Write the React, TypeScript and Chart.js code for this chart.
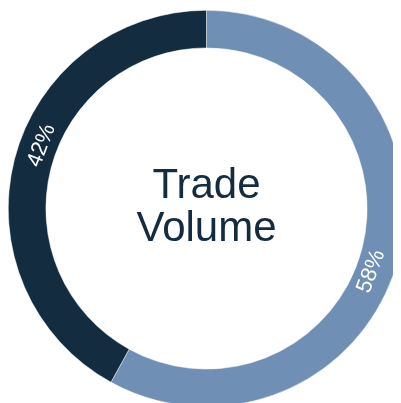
import React, { useEffect, useRef } from "react";
import { Chart, registerables } from "chart.js";

Chart.register(...registerables);

const categories = ["Share A", "Share B"];
const shareValues = [58, 42];
const shareLabels = ["58%", "42%"];
const centerLines = ["Trade", "Volume"];
const sliceColors = ["#6f8fb4", "#132c40"];

const FONT = '"Liberation Sans", Arial, Helvetica, sans-serif';

const labelPlugin = {
  id: "ringLabels",
  afterDatasetsDraw(chart: any) {
    const ctx = chart.ctx as CanvasRenderingContext2D;
    const meta = chart.getDatasetMeta(0);
    meta.data.forEach((arc: any, i: number) => {
      const { x, y, startAngle, endAngle, innerRadius, outerRadius } = arc.getProps(
        ["x", "y", "startAngle", "endAngle", "innerRadius", "outerRadius"],
        true
      );
      const mid = (startAngle + endAngle) / 2 + (6.5 * Math.PI) / 180;
      const r = (innerRadius + outerRadius) / 2 - 3;
      const px = x + Math.cos(mid) * r;
      const py = y + Math.sin(mid) * r;
      let rot = mid - Math.PI / 2;
      const deg = ((mid * 180) / Math.PI + 360) % 360;
      if (deg > 90 && deg < 270) rot = mid + Math.PI / 2;
      ctx.save();
      ctx.translate(px, py);
      ctx.rotate(rot);
      ctx.fillStyle = "#ffffff";
      ctx.font = `22px ${FONT}`;
      ctx.textAlign = "center";
      ctx.textBaseline = "middle";
      ctx.fillText(shareLabels[i], 0, 0);
      ctx.restore();
    });
    const first = meta.data[0];
    if (first) {
      const cx = first.x;
      const cy = first.y;
      ctx.save();
      ctx.fillStyle = "#132c40";
      ctx.font = `42px ${FONT}`;
      ctx.textAlign = "center";
      ctx.textBaseline = "alphabetic";
      ctx.fillText(centerLines[0], cx, cy - 11);
      ctx.fillText(centerLines[1], cx, cy + 32);
      ctx.restore();
    }
  },
};

export default function App() {
  const ref = useRef<HTMLCanvasElement | null>(null);
  useEffect(() => {
    if (!ref.current) return;
    const chart = new Chart(ref.current, {
      type: "doughnut",
      data: {
        labels: categories,
        datasets: [
          {
            data: shareValues,
            backgroundColor: sliceColors,
            borderColor: "#ffffff",
            borderWidth: 0.5,
          },
        ],
      },
      options: {
        responsive: false,
        animation: false,
        cutout: "81%",
        layout: { padding: 0 },
        plugins: {
          legend: { display: false },
          tooltip: { enabled: false },
        },
      },
      plugins: [labelPlugin],
    });
    return () => chart.destroy();
  }, []);
  return (
    <div style={{ width: 393, height: 395, overflow: "hidden" }}>
      <canvas ref={ref} width={397} height={401} style={{ display: "block" }} />
    </div>
  );
}
